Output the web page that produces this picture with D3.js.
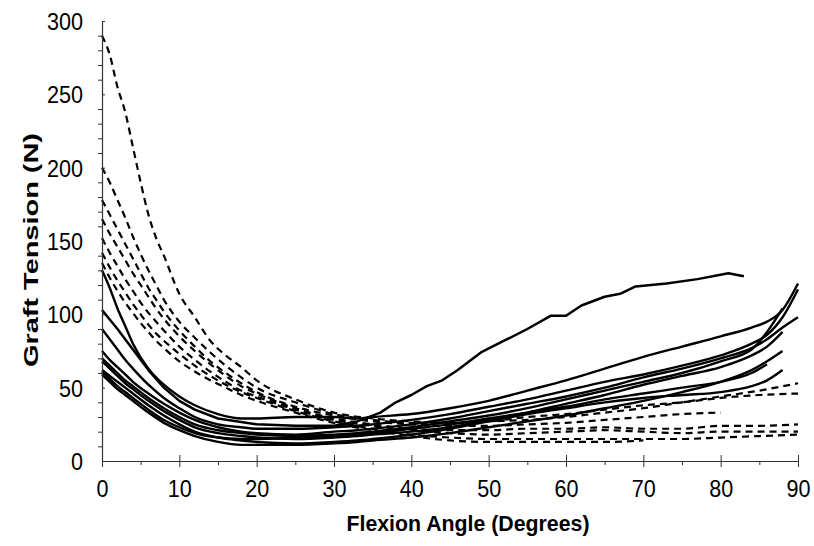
<!DOCTYPE html>
<html><head><meta charset="utf-8">
<script src="https://cdn.jsdelivr.net/npm/d3@7"></script>
<style>body{margin:0;background:#fff}svg{display:block}</style>
</head><body><svg id="c" width="814" height="546"></svg>
<script>
// ---- data ----
const xTicks = [0,10,20,30,40,50,60,70,80,90];
const yTicks = [0,50,100,150,200,250,300];
const xLabel = "Flexion Angle (Degrees)";
const yLabel = "Graft Tension (N)";

// long solid curve that peaks near 80 degrees
const bigAngles  = [0,2,4,6,8,10,12,15,20,25,30,33,36,38,40,42,44,46,49,52,55,58,60,62,65,67,69,73,77,81,83];
const bigTension = [103,90,76,62,50,41,35,29,25,24,24,27,33,40,45,51,55,62,74,82,90,99,99,106,112,114,119,121,124,128,126];

// other solid curves share one angle grid
const solidAngles = [0,1,2,3,4,6,8,10,12,15,18,20,25,30,33,35,40,45,50,55,60,65,70,75,80,84,86,88,90];
const solidA = [130,118,104,92,80,63,52,44,38,32,29,29,30,30,29,30,32,36,41,48,55,63,71,78,85,91,95,103,121];
const solidB = [90,83,76,69,63,52,43,36,30,25,23,22,22,23,24,25,28,32,37,42,48,54,59,65,72,80,86,98,117];
const solidC = [75,69,64,59,54,46,39,33,28,23,20,19,18,20,21,22,25,29,34,39,44,50,57,63,70,77,83,91,98];
const solidD = [70,65,60,55,51,43,36,30,25,21,19,18,17,18,19,20,23,27,31,36,42,48,54,60,68,76,88,104,null];
const solidE = [68,63,58,53,49,41,34,28,23,19,17,16,15,16,17,18,20,23,28,33,39,45,52,58,64,72,78,88,null];
const solidF = [62,58,54,50,46,38,31,25,20,16,14,13,12,13,14,15,18,22,27,32,36,40,43,45,47,51,55,62,null];
const solidG = [61,56,51,47,43,35,28,23,19,16,15,15,16,17,18,19,22,25,29,33,37,42,46,50,54,60,66,null,null];
const solidH = [59,54,49,45,41,33,26,21,17,13,11,11,11,12,13,14,16,19,23,27,31,36,41,47,54,62,68,75,null];

// dashed curves share another angle grid
const dashAngles = [0,1,2,3,4,5,6,7,8,10,12,14,16,18,20,25,30,35,40,45,50,55,60,65,70,75,80,85,90];
const dashA = [290,277,255,238,214,190,168,152,140,114,98,82,72,64,55,42,33,29,27,26,27,28,30,33,36,40,44,48,53];
const dashB = [200,190,178,166,153,141,130,120,110,95,84,74,65,57,50,40,32,28,26,26,27,30,32,35,38,40,43,45,46];
const dashC = [178,168,158,148,138,128,118,110,102,89,78,68,60,53,47,37,31,27,25,24,24,25,26,28,30,32,33,null,null];
const dashD = [165,155,146,137,128,120,112,104,97,85,75,66,58,51,46,36,29,25,22,21,21,22,22,23,22,22,24,24,25];
const dashE = [152,142,133,124,116,108,101,95,89,78,69,61,54,48,44,35,28,24,21,19,18,19,20,21,20,19,20,20,20];
const dashF = [142,132,123,115,107,100,93,87,82,73,65,58,52,47,43,34,27,22,18,16,15,15,15,15,15,15,16,17,18];
const dashG = [135,125,116,108,101,94,88,82,77,68,61,55,50,45,41,33,26,21,17,14,13,13,13,13,14,null,null,null,null];

// ---- drawing ----
const svg = d3.select("#c");
const x = d3.scaleLinear().domain([0,90]).range([102,798]);
const y = d3.scaleLinear().domain([0,300]).range([461,21]);

function series(angles, vals){ return angles.map((a,i)=>[a, vals[i]]).filter(d=>d[1]!=null); }
const line = d3.line().x(d=>x(d[0])).y(d=>y(d[1])).curve(d3.curveMonotoneX);
const lineLin = d3.line().x(d=>x(d[0])).y(d=>y(d[1]));

const g = svg.append("g");
[dashA,dashB,dashC,dashD,dashE,dashF,dashG].forEach(v=>{
  g.append("path").attr("d", line(series(dashAngles, v)))
   .attr("fill","none").attr("stroke","#000").attr("stroke-width",2.2)
   .attr("stroke-dasharray","7,5");
});
[solidA,solidB,solidC,solidD,solidE,solidF,solidG,solidH].forEach(v=>{
  g.append("path").attr("d", line(series(solidAngles, v)))
   .attr("fill","none").attr("stroke","#000").attr("stroke-width",2.4);
});
g.append("path").attr("d", lineLin(series(bigAngles, bigTension)))
 .attr("fill","none").attr("stroke","#000").attr("stroke-width",2.5).attr("stroke-linejoin","round");

// axes
const font = "'Liberation Sans', Arial, sans-serif";
const yMinor = d3.range(0,301,10).filter(v=>v%50!==0);
svg.append("g").attr("transform","translate(102,0)")
  .call(d3.axisLeft(y).tickValues(yMinor).tickSize(4).tickFormat(""))
  .call(a=>a.select(".domain").remove())
  .selectAll("line").attr("stroke","#333");
const yAx = svg.append("g").attr("transform","translate(102,0)")
  .call(d3.axisLeft(y).tickValues(yTicks).tickSizeInner(7).tickSizeOuter(0).tickPadding(12));
yAx.select(".domain").attr("stroke","#333").attr("stroke-width",1.2);
yAx.selectAll(".tick line").attr("stroke","#333").attr("x2",3);
yAx.selectAll("text").attr("font-family",font).attr("font-size",24).attr("fill","#000")
  .attr("dy","0.36em")
  .attr("textLength",d=>String(d).length*12).attr("lengthAdjust","spacingAndGlyphs");

const xMinor = d3.range(5,90,10);
svg.append("g").attr("transform","translate(0,461)")
  .call(d3.axisBottom(x).tickValues(xMinor).tickSize(4).tickFormat(""))
  .call(a=>a.select(".domain").remove())
  .selectAll("line").attr("stroke","#333");
const xAx = svg.append("g").attr("transform","translate(0,461)")
  .call(d3.axisBottom(x).tickValues(xTicks).tickSizeInner(6).tickSizeOuter(0).tickPadding(13));
xAx.select(".domain").attr("stroke","#333").attr("stroke-width",1.2);
xAx.selectAll(".tick line").attr("stroke","#333").attr("y1",-6);
xAx.selectAll("text").attr("font-family",font).attr("font-size",24).attr("fill","#000")
  .attr("textLength",d=>String(d).length*12).attr("lengthAdjust","spacingAndGlyphs");

svg.append("text").attr("x",468).attr("y",531).attr("text-anchor","middle")
  .attr("font-family",font).attr("font-weight","bold").attr("font-size",22)
  .attr("textLength",243).attr("lengthAdjust","spacingAndGlyphs").text(xLabel);
svg.append("text").attr("transform","translate(38,250) rotate(-90)").attr("text-anchor","middle")
  .attr("font-family",font).attr("font-weight","bold").attr("font-size",21)
  .attr("textLength",234).attr("lengthAdjust","spacingAndGlyphs").text(yLabel);
</script></body></html>
